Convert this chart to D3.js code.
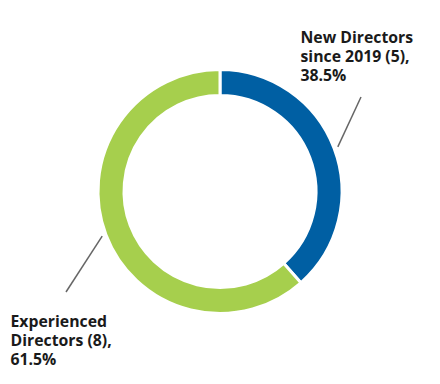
<!DOCTYPE html>
<html>
<head>
<meta charset="utf-8">
<script src="https://cdn.jsdelivr.net/npm/d3@7"></script>
<style>
  body { margin: 0; background: #fff; }
  #chart text { font-family: "Open Sans", sans-serif; font-weight: 700; font-size: 15.8px; fill: #1a1a1a; }
</style>
</head>
<body>
<div id="chart"></div>
<script>
const categories = ['New Directors since 2019', 'Experienced Directors'];
const counts = [5, 8];
const percents = [38.5, 61.5];
const labelLines = [
  ['New Directors', 'since 2019 (5),', '38.5%'],
  ['Experienced', 'Directors (8),', '61.5%']
];
const colors = ['#005fa3', '#a6cf4d'];

const width = 440;
const height = 384;
const cx = 220, cy = 191.5;
const outerR = 122, innerR = 96;

const svg = d3.select('#chart')
  .append('svg')
  .attr('width', width)
  .attr('height', height);

const g = svg.append('g').attr('transform', `translate(${cx},${cy})`);

const pie = d3.pie().sort(null).value(d => d);
const arcs = pie(counts);

const arc = d3.arc().innerRadius(innerR).outerRadius(outerR);

g.selectAll('path')
  .data(arcs)
  .enter()
  .append('path')
  .attr('d', arc)
  .attr('fill', (d, i) => colors[i])
  .attr('stroke', '#fff')
  .attr('stroke-width', 3);

// leader lines: start just outside the ring at slice middle
const lineArc = d3.arc().innerRadius(126).outerRadius(126);
const lineEnds = [[141, -94.5], [-154, 100.5]];
g.selectAll('line.leader')
  .data(arcs)
  .enter()
  .append('line')
  .attr('class', 'leader')
  .attr('x1', d => lineArc.centroid(d)[0])
  .attr('y1', d => lineArc.centroid(d)[1])
  .attr('x2', (d, i) => lineEnds[i][0])
  .attr('y2', (d, i) => lineEnds[i][1])
  .attr('stroke', '#666')
  .attr('stroke-width', 1.5);

// labels
const labelPos = [[300.5, 43], [10.5, 327]];
const lineH = 18.8;
labelLines.forEach((lines, i) => {
  const t = svg.append('text')
    .attr('x', labelPos[i][0])
    .attr('y', labelPos[i][1]);
  lines.forEach((s, j) => {
    t.append('tspan')
      .attr('x', labelPos[i][0])
      .attr('y', labelPos[i][1] + j * lineH)
      .text(s);
  });
});
</script>
</body>
</html>
